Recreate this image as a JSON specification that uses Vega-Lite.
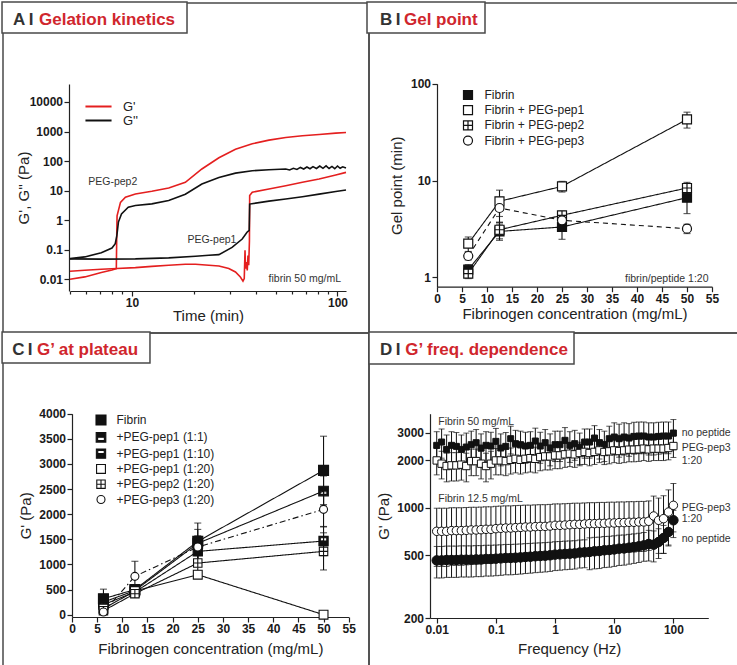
{
"$schema": "https://vega.github.io/schema/vega-lite/v6.json",
"background": "white",
"padding": {"left": 0, "top": 0, "right": -2, "bottom": -3},
"spacing": 0,
"bounds": "flush",
"columns": 2,
"resolve": {
  "scale": {"color": "independent", "shape": "independent", "fill": "independent", "size": "independent", "strokeDash": "independent"},
  "legend": {"color": "independent", "shape": "independent", "fill": "independent", "size": "independent", "strokeDash": "independent"}
},
"config": {
  "font": "Liberation Sans",
  "view": {"stroke": "#4a4a4a", "strokeWidth": 1.5},
  "scale": {"zero": false},
  "axis": {"grid": false, "labelFlush": false, "labelOverlap": false, "labelBound": false, "domainColor": "#222", "tickColor": "#222", "domainWidth": 1.2, "tickWidth": 1.2, "tickSize": 5, "labelPadding": 1.5, "labelFont": "Liberation Sans", "labelFontSize": 12, "labelFontWeight": "bold", "labelColor": "#1a1a1a", "titleFont": "Liberation Sans", "titleFontSize": 15, "titleFontWeight": "normal", "titleColor": "#222"},
  "legend": {"labelFont": "Liberation Sans", "labelColor": "#222", "padding": 0, "title": null}
},
"datasets": {
  "A": [
        {"s":"p2a","m":"G'","t":5,"g":0.0100},{"s":"p2a","m":"G'","t":5.9,"g":0.0120},{"s":"p2a","m":"G'","t":7.1,"g":0.0168},{"s":"p2a","m":"G'","t":8.0,"g":0.0207},{"s":"p2a","m":"G'","t":8.4,"g":0.0230},{"s":"p2a","m":"G'","t":8.44,"g":0.30},{"s":"p2a","m":"G'","t":8.47,"g":1.4},{"s":"p2a","m":"G'","t":8.8,"g":4.0},{"s":"p2a","m":"G'","t":9.3,"g":6.0},{"s":"p2a","m":"G'","t":10.4,"g":7.7},{"s":"p2a","m":"G'","t":12.5,"g":9.5},{"s":"p2a","m":"G'","t":15.1,"g":12.3},{"s":"p2a","m":"G'","t":18.2,"g":19},{"s":"p2a","m":"G'","t":21.9,"g":54},{"s":"p2a","m":"G'","t":26.5,"g":129},{"s":"p2a","m":"G'","t":31.9,"g":251},{"s":"p2a","m":"G'","t":38.5,"g":384},{"s":"p2a","m":"G'","t":46.4,"g":511},{"s":"p2a","m":"G'","t":56,"g":630},{"s":"p2a","m":"G'","t":67.5,"g":715},{"s":"p2a","m":"G'","t":81.4,"g":794},{"s":"p2a","m":"G'","t":98.1,"g":880},{"s":"p2a","m":"G'","t":110,"g":925},
        {"s":"p2b","m":"G''","t":5,"g":0.050},{"s":"p2b","m":"G''","t":5.9,"g":0.057},{"s":"p2b","m":"G''","t":7.1,"g":0.079},{"s":"p2b","m":"G''","t":8.0,"g":0.114},{"s":"p2b","m":"G''","t":8.3,"g":0.16},{"s":"p2b","m":"G''","t":8.45,"g":0.30},{"s":"p2b","m":"G''","t":8.6,"g":0.86},{"s":"p2b","m":"G''","t":8.9,"g":1.63},{"s":"p2b","m":"G''","t":9.6,"g":2.74},{"s":"p2b","m":"G''","t":10.4,"g":3.12},{"s":"p2b","m":"G''","t":12.5,"g":3.55},{"s":"p2b","m":"G''","t":15.1,"g":4.6},{"s":"p2b","m":"G''","t":18.2,"g":7.5},{"s":"p2b","m":"G''","t":21.9,"g":16.8},{"s":"p2b","m":"G''","t":26.5,"g":28},{"s":"p2b","m":"G''","t":31.9,"g":39},{"s":"p2b","m":"G''","t":38.5,"g":47},{"s":"p2b","m":"G''","t":46.4,"g":51},{"s":"p2b","m":"G''","t":56,"g":54},{"s":"p2b","m":"G''","t":58.5,"g":50},{"s":"p2b","m":"G''","t":61,"g":57},{"s":"p2b","m":"G''","t":63.5,"g":52},{"s":"p2b","m":"G''","t":66,"g":61},{"s":"p2b","m":"G''","t":68.5,"g":54},{"s":"p2b","m":"G''","t":71,"g":63},{"s":"p2b","m":"G''","t":73.5,"g":55},{"s":"p2b","m":"G''","t":76,"g":65},{"s":"p2b","m":"G''","t":79,"g":56},{"s":"p2b","m":"G''","t":82,"g":68},{"s":"p2b","m":"G''","t":85,"g":57},{"s":"p2b","m":"G''","t":88,"g":69},{"s":"p2b","m":"G''","t":91,"g":56},{"s":"p2b","m":"G''","t":94,"g":66},{"s":"p2b","m":"G''","t":97,"g":55},{"s":"p2b","m":"G''","t":100,"g":68},{"s":"p2b","m":"G''","t":103,"g":57},{"s":"p2b","m":"G''","t":106,"g":64},{"s":"p2b","m":"G''","t":110,"g":58},
        {"s":"p1a","m":"G'","t":5,"g":0.0186},{"s":"p1a","m":"G'","t":5.9,"g":0.0201},{"s":"p1a","m":"G'","t":7.1,"g":0.0217},{"s":"p1a","m":"G'","t":8.45,"g":0.0230},{"s":"p1a","m":"G'","t":10.4,"g":0.0247},{"s":"p1a","m":"G'","t":12.5,"g":0.0272},{"s":"p1a","m":"G'","t":15.1,"g":0.0296},{"s":"p1a","m":"G'","t":18.2,"g":0.032},{"s":"p1a","m":"G'","t":20.4,"g":0.032},{"s":"p1a","m":"G'","t":23.7,"g":0.0296},{"s":"p1a","m":"G'","t":26.5,"g":0.028},{"s":"p1a","m":"G'","t":29.6,"g":0.023},{"s":"p1a","m":"G'","t":31.9,"g":0.0177},{"s":"p1a","m":"G'","t":33.7,"g":0.0119},{"s":"p1a","m":"G'","t":34.7,"g":0.0086},{"s":"p1a","m":"G'","t":35.2,"g":0.0105},{"s":"p1a","m":"G'","t":35.5,"g":0.095},{"s":"p1a","m":"G'","t":35.7,"g":0.023},{"s":"p1a","m":"G'","t":36.1,"g":0.038},{"s":"p1a","m":"G'","t":36.4,"g":0.020},{"s":"p1a","m":"G'","t":36.7,"g":0.064},{"s":"p1a","m":"G'","t":37.0,"g":0.030},{"s":"p1a","m":"G'","t":37.3,"g":0.2},{"s":"p1a","m":"G'","t":37.4,"g":6.8},{"s":"p1a","m":"G'","t":38.5,"g":8.8},{"s":"p1a","m":"G'","t":46.4,"g":11.4},{"s":"p1a","m":"G'","t":56,"g":14.7},{"s":"p1a","m":"G'","t":67.5,"g":19.1},{"s":"p1a","m":"G'","t":81.4,"g":24.7},{"s":"p1a","m":"G'","t":98.1,"g":33.7},{"s":"p1a","m":"G'","t":110,"g":41.5},
        {"s":"p1b","m":"G''","t":5,"g":0.049},{"s":"p1b","m":"G''","t":7.1,"g":0.048},{"s":"p1b","m":"G''","t":10.4,"g":0.049},{"s":"p1b","m":"G''","t":15.1,"g":0.053},{"s":"p1b","m":"G''","t":20.4,"g":0.060},{"s":"p1b","m":"G''","t":23.7,"g":0.065},{"s":"p1b","m":"G''","t":26.5,"g":0.068},{"s":"p1b","m":"G''","t":30.7,"g":0.12},{"s":"p1b","m":"G''","t":34.4,"g":0.23},{"s":"p1b","m":"G''","t":36.3,"g":0.39},{"s":"p1b","m":"G''","t":37.2,"g":0.45},{"s":"p1b","m":"G''","t":37.4,"g":3.5},{"s":"p1b","m":"G''","t":46.4,"g":4.4},{"s":"p1b","m":"G''","t":56,"g":5.2},{"s":"p1b","m":"G''","t":67.5,"g":6.2},{"s":"p1b","m":"G''","t":81.4,"g":7.6},{"s":"p1b","m":"G''","t":98.1,"g":9.3},{"s":"p1b","m":"G''","t":110,"g":10.5}
  ],
  "B": [
        {"s":"Fibrin","c":6.25,"g":1.2,"e":0.15},{"s":"Fibrin","c":12.5,"g":2.98,"e":0.57},{"s":"Fibrin","c":25,"g":3.31,"e":0.84},{"s":"Fibrin","c":50,"g":6.65,"e":2.1},
        {"s":"Fibrin + PEG-pep1","c":6.25,"g":2.23,"e":0.38},{"s":"Fibrin + PEG-pep1","c":12.5,"g":6.1,"e":1.85},{"s":"Fibrin + PEG-pep1","c":25,"g":8.7,"e":1.1},{"s":"Fibrin + PEG-pep1","c":50,"g":42.8,"e":8},
        {"s":"Fibrin + PEG-pep2","c":6.25,"g":1.09,"e":0.12},{"s":"Fibrin + PEG-pep2","c":12.5,"g":3.1,"e":0.6},{"s":"Fibrin + PEG-pep2","c":25,"g":4.37,"e":0.45},{"s":"Fibrin + PEG-pep2","c":50,"g":8.37,"e":1.2},
        {"s":"Fibrin + PEG-pep3","c":6.25,"g":1.66,"e":0.15},{"s":"Fibrin + PEG-pep3","c":12.5,"g":5.2,"e":1.5},{"s":"Fibrin + PEG-pep3","c":25,"g":3.88,"e":0.4},{"s":"Fibrin + PEG-pep3","c":50,"g":3.18,"e":0.35}
  ],
  "C": [
        {"s":"Fibrin","c":6.25,"g":318,"e":190},{"s":"Fibrin","c":12.5,"g":500,"e":60},{"s":"Fibrin","c":25,"g":1459,"e":365},{"s":"Fibrin","c":50,"g":2872,"e":680},
        {"s":"+PEG-pep1 (1:1)","c":6.25,"g":250,"e":50},{"s":"+PEG-pep1 (1:1)","c":12.5,"g":480,"e":60},{"s":"+PEG-pep1 (1:1)","c":25,"g":1420,"e":150},{"s":"+PEG-pep1 (1:1)","c":50,"g":2461,"e":300},
        {"s":"+PEG-pep1 (1:10)","c":6.25,"g":200,"e":50},{"s":"+PEG-pep1 (1:10)","c":12.5,"g":450,"e":50},{"s":"+PEG-pep1 (1:10)","c":25,"g":1260,"e":200},{"s":"+PEG-pep1 (1:10)","c":50,"g":1466,"e":290},
        {"s":"+PEG-pep1 (1:20)","c":6.25,"g":120,"e":40},{"s":"+PEG-pep1 (1:20)","c":12.5,"g":470,"e":50},{"s":"+PEG-pep1 (1:20)","c":25,"g":796,"e":60},{"s":"+PEG-pep1 (1:20)","c":50,"g":0,"e":20},
        {"s":"+PEG-pep2 (1:20)","c":6.25,"g":80,"e":40},{"s":"+PEG-pep2 (1:20)","c":12.5,"g":418,"e":50},{"s":"+PEG-pep2 (1:20)","c":25,"g":1028,"e":150},{"s":"+PEG-pep2 (1:20)","c":50,"g":1260,"e":370},
        {"s":"+PEG-pep3 (1:20)","c":6.25,"g":53,"e":30},{"s":"+PEG-pep3 (1:20)","c":12.5,"g":763,"e":300},{"s":"+PEG-pep3 (1:20)","c":25,"g":1347,"e":350},{"s":"+PEG-pep3 (1:20)","c":50,"g":2096,"e":350}
  ],
  "D": [
{"s":"n50","f":0.01,"g":2494,"e":550},{"s":"n50","f":0.0121,"g":2617,"e":550},{"s":"n50","f":0.0147,"g":2351,"e":550},{"s":"n50","f":0.0178,"g":2494,"e":550},{"s":"n50","f":0.0215,"g":2457,"e":550},{"s":"n50","f":0.0261,"g":2351,"e":550},{"s":"n50","f":0.0316,"g":2433,"e":550},{"s":"n50","f":0.0383,"g":2518,"e":550},{"s":"n50","f":0.0464,"g":2592,"e":550},{"s":"n50","f":0.0562,"g":2398,"e":550},{"s":"n50","f":0.0681,"g":2494,"e":550},{"s":"n50","f":0.0825,"g":2469,"e":550},{"s":"n50","f":0.1,"g":2643,"e":550},{"s":"n50","f":0.121,"g":2398,"e":550},{"s":"n50","f":0.147,"g":2457,"e":550},{"s":"n50","f":0.178,"g":2748,"e":550},{"s":"n50","f":0.215,"g":2555,"e":550},{"s":"n50","f":0.261,"g":2518,"e":550},{"s":"n50","f":0.316,"g":2469,"e":550},{"s":"n50","f":0.383,"g":2494,"e":550},{"s":"n50","f":0.464,"g":2656,"e":550},{"s":"n50","f":0.562,"g":2469,"e":550},{"s":"n50","f":0.681,"g":2592,"e":550},{"s":"n50","f":0.825,"g":2398,"e":550},{"s":"n50","f":1,"g":2518,"e":550},{"s":"n50","f":1.21,"g":2518,"e":550},{"s":"n50","f":1.47,"g":2683,"e":550},{"s":"n50","f":1.78,"g":2494,"e":550},{"s":"n50","f":2.15,"g":2555,"e":550},{"s":"n50","f":2.61,"g":2433,"e":550},{"s":"n50","f":3.16,"g":2617,"e":550},{"s":"n50","f":3.83,"g":2617,"e":550},{"s":"n50","f":4.64,"g":2775,"e":550},{"s":"n50","f":5.62,"g":2592,"e":550},{"s":"n50","f":6.81,"g":2518,"e":550},{"s":"n50","f":8.25,"g":2748,"e":550},{"s":"n50","f":10,"g":2816,"e":650},{"s":"n50","f":12.1,"g":2748,"e":650},{"s":"n50","f":14.7,"g":2816,"e":650},{"s":"n50","f":17.8,"g":2775,"e":650},{"s":"n50","f":21.5,"g":2843,"e":650},{"s":"n50","f":26.1,"g":2857,"e":650},{"s":"n50","f":31.6,"g":2857,"e":650},{"s":"n50","f":38.3,"g":2816,"e":650},{"s":"n50","f":46.4,"g":2816,"e":650},{"s":"n50","f":56.2,"g":2843,"e":650},{"s":"n50","f":68.1,"g":2857,"e":650},{"s":"n50","f":82.5,"g":2857,"e":650},{"s":"n50","f":100,"g":2986,"e":650},
{"s":"p50","f":0.01,"g":2000,"e":380},{"s":"p50","f":0.0121,"g":1907,"e":380},{"s":"p50","f":0.0147,"g":1843,"e":380},{"s":"p50","f":0.0178,"g":1861,"e":380},{"s":"p50","f":0.0215,"g":1861,"e":380},{"s":"p50","f":0.0261,"g":1880,"e":380},{"s":"p50","f":0.0316,"g":1843,"e":380},{"s":"p50","f":0.0383,"g":1981,"e":380},{"s":"p50","f":0.0464,"g":1981,"e":380},{"s":"p50","f":0.0562,"g":1907,"e":380},{"s":"p50","f":0.0681,"g":1843,"e":380},{"s":"p50","f":0.0825,"g":1907,"e":380},{"s":"p50","f":0.1,"g":2000,"e":380},{"s":"p50","f":0.121,"g":2000,"e":380},{"s":"p50","f":0.147,"g":1981,"e":380},{"s":"p50","f":0.178,"g":2019,"e":380},{"s":"p50","f":0.215,"g":2048,"e":380},{"s":"p50","f":0.261,"g":2019,"e":380},{"s":"p50","f":0.316,"g":2048,"e":380},{"s":"p50","f":0.383,"g":2068,"e":380},{"s":"p50","f":0.464,"g":2048,"e":380},{"s":"p50","f":0.562,"g":2100,"e":380},{"s":"p50","f":0.681,"g":2121,"e":380},{"s":"p50","f":0.825,"g":2121,"e":380},{"s":"p50","f":1,"g":2153,"e":380},{"s":"p50","f":1.21,"g":2153,"e":380},{"s":"p50","f":1.47,"g":2187,"e":380},{"s":"p50","f":1.78,"g":2208,"e":380},{"s":"p50","f":2.15,"g":2187,"e":380},{"s":"p50","f":2.61,"g":2230,"e":380},{"s":"p50","f":3.16,"g":2266,"e":380},{"s":"p50","f":3.83,"g":2230,"e":380},{"s":"p50","f":4.64,"g":2266,"e":380},{"s":"p50","f":5.62,"g":2317,"e":380},{"s":"p50","f":6.81,"g":2263,"e":380},{"s":"p50","f":8.25,"g":2284,"e":380},{"s":"p50","f":10,"g":2317,"e":380},{"s":"p50","f":12.1,"g":2295,"e":380},{"s":"p50","f":14.7,"g":2317,"e":380},{"s":"p50","f":17.8,"g":2341,"e":380},{"s":"p50","f":21.5,"g":2341,"e":380},{"s":"p50","f":26.1,"g":2352,"e":380},{"s":"p50","f":31.6,"g":2377,"e":380},{"s":"p50","f":38.3,"g":2352,"e":380},{"s":"p50","f":46.4,"g":2377,"e":380},{"s":"p50","f":56.2,"g":2377,"e":380},{"s":"p50","f":68.1,"g":2377,"e":380},{"s":"p50","f":82.5,"g":2398,"e":380},{"s":"p50","f":100,"g":2469,"e":380},
{"s":"p12","f":0.01,"g":710,"e":285},{"s":"p12","f":0.0121,"g":710,"e":285},{"s":"p12","f":0.0147,"g":710,"e":285},{"s":"p12","f":0.0178,"g":717,"e":285},{"s":"p12","f":0.0215,"g":717,"e":285},{"s":"p12","f":0.0261,"g":717,"e":285},{"s":"p12","f":0.0316,"g":720,"e":285},{"s":"p12","f":0.0383,"g":724,"e":285},{"s":"p12","f":0.0464,"g":724,"e":285},{"s":"p12","f":0.0562,"g":727,"e":285},{"s":"p12","f":0.0681,"g":731,"e":285},{"s":"p12","f":0.0825,"g":731,"e":285},{"s":"p12","f":0.1,"g":738,"e":285},{"s":"p12","f":0.121,"g":742,"e":285},{"s":"p12","f":0.147,"g":745,"e":285},{"s":"p12","f":0.178,"g":745,"e":285},{"s":"p12","f":0.215,"g":749,"e":285},{"s":"p12","f":0.261,"g":752,"e":285},{"s":"p12","f":0.316,"g":756,"e":285},{"s":"p12","f":0.383,"g":756,"e":285},{"s":"p12","f":0.464,"g":760,"e":285},{"s":"p12","f":0.562,"g":763,"e":285},{"s":"p12","f":0.681,"g":763,"e":285},{"s":"p12","f":0.825,"g":767,"e":285},{"s":"p12","f":1,"g":775,"e":285},{"s":"p12","f":1.21,"g":775,"e":285},{"s":"p12","f":1.47,"g":778,"e":285},{"s":"p12","f":1.78,"g":782,"e":285},{"s":"p12","f":2.15,"g":786,"e":285},{"s":"p12","f":2.61,"g":786,"e":285},{"s":"p12","f":3.16,"g":790,"e":285},{"s":"p12","f":3.83,"g":794,"e":285},{"s":"p12","f":4.64,"g":794,"e":285},{"s":"p12","f":5.62,"g":798,"e":285},{"s":"p12","f":6.81,"g":798,"e":285},{"s":"p12","f":8.25,"g":802,"e":285},{"s":"p12","f":10,"g":802,"e":285},{"s":"p12","f":12.1,"g":806,"e":285},{"s":"p12","f":14.7,"g":806,"e":285},{"s":"p12","f":17.8,"g":810,"e":285},{"s":"p12","f":21.5,"g":810,"e":285},{"s":"p12","f":26.1,"g":814,"e":285},{"s":"p12","f":31.6,"g":814,"e":285},{"s":"p12","f":38.3,"g":822,"e":285},{"s":"p12","f":46.4,"g":888,"e":300},{"s":"p12","f":56.2,"g":834,"e":320},{"s":"p12","f":68.1,"g":854,"e":340},{"s":"p12","f":82.5,"g":941,"e":360},{"s":"p12","f":100,"g":1038,"e":390},
{"s":"n12","f":0.01,"g":464,"e":105},{"s":"n12","f":0.0121,"g":464,"e":105},{"s":"n12","f":0.0147,"g":467,"e":105},{"s":"n12","f":0.0178,"g":467,"e":105},{"s":"n12","f":0.0215,"g":467,"e":105},{"s":"n12","f":0.0261,"g":469,"e":105},{"s":"n12","f":0.0316,"g":469,"e":105},{"s":"n12","f":0.0383,"g":469,"e":105},{"s":"n12","f":0.0464,"g":471,"e":105},{"s":"n12","f":0.0562,"g":471,"e":105},{"s":"n12","f":0.0681,"g":474,"e":105},{"s":"n12","f":0.0825,"g":474,"e":105},{"s":"n12","f":0.1,"g":476,"e":105},{"s":"n12","f":0.121,"g":478,"e":105},{"s":"n12","f":0.147,"g":481,"e":105},{"s":"n12","f":0.178,"g":481,"e":105},{"s":"n12","f":0.215,"g":483,"e":105},{"s":"n12","f":0.261,"g":485,"e":105},{"s":"n12","f":0.316,"g":488,"e":105},{"s":"n12","f":0.383,"g":490,"e":105},{"s":"n12","f":0.464,"g":493,"e":105},{"s":"n12","f":0.562,"g":495,"e":105},{"s":"n12","f":0.681,"g":497,"e":105},{"s":"n12","f":0.825,"g":500,"e":105},{"s":"n12","f":1,"g":505,"e":105},{"s":"n12","f":1.21,"g":507,"e":105},{"s":"n12","f":1.47,"g":510,"e":105},{"s":"n12","f":1.78,"g":512,"e":105},{"s":"n12","f":2.15,"g":514,"e":105},{"s":"n12","f":2.61,"g":520,"e":105},{"s":"n12","f":3.16,"g":522,"e":105},{"s":"n12","f":3.83,"g":525,"e":120},{"s":"n12","f":4.64,"g":530,"e":120},{"s":"n12","f":5.62,"g":532,"e":120},{"s":"n12","f":6.81,"g":538,"e":120},{"s":"n12","f":8.25,"g":540,"e":120},{"s":"n12","f":10,"g":545,"e":120},{"s":"n12","f":12.1,"g":551,"e":120},{"s":"n12","f":14.7,"g":553,"e":120},{"s":"n12","f":17.8,"g":559,"e":120},{"s":"n12","f":21.5,"g":564,"e":120},{"s":"n12","f":26.1,"g":570,"e":120},{"s":"n12","f":31.6,"g":578,"e":120},{"s":"n12","f":38.3,"g":590,"e":130},{"s":"n12","f":46.4,"g":584,"e":130},{"s":"n12","f":56.2,"g":607,"e":130},{"s":"n12","f":68.1,"g":644,"e":130},{"s":"n12","f":82.5,"g":703,"e":130},{"s":"n12","f":100,"g":834,"e":130}
  ]
},
"concat": [
{
  "width": 366, "height": 330,
  "layer": [
    {
      "data": {"name": "A"},
      "mark": {"type": "line", "strokeWidth": 1.6},
      "encoding": {
        "x": {"field": "t", "type": "quantitative", "scale": {"type": "log", "domain": [5, 110], "range": [67, 343], "nice": false},
              "axis": {"title": "Time (min)", "offset": -42, "values": [5,6,7,8,9,10,20,30,40,50,60,70,80,90,100], "labelExpr": "datum.value == 10 ? '10' : datum.value == 100 ? '100' : ''", "tickSize": {"condition": {"test": "datum.value == 10 || datum.value == 100", "value": 5}, "value": 3}, "titlePadding": 0}},
        "y": {"field": "g", "type": "quantitative", "scale": {"type": "log", "domain": [0.004, 40600], "range": [288, 81], "nice": false},
              "axis": {"title": "G', G'' (Pa)", "offset": -66, "values": [0.01,0.1,1,10,100,1000,10000], "format": "~g", "titlePadding": -2}},
        "color": {"field": "m", "type": "nominal", "scale": {"domain": ["G'", "G''"], "range": ["#e41f1f", "#111111"]},
                  "legend": {"orient": "none", "legendX": 89, "legendY": 97, "symbolType": "M-2.9,0H2.9", "symbolSize": 81, "symbolStrokeWidth": 2, "labelFontSize": 13, "labelOffset": 18, "rowPadding": 0}},
        "detail": {"field": "s"}
      }
    },
    {
      "data": {"values": [{"t": 8.07, "g": 19, "txt": "PEG-pep2"}, {"t": 24.5, "g": 0.22, "txt": "PEG-pep1"}]},
      "mark": {"type": "text", "fontSize": 10.5, "color": "#333", "align": "center", "baseline": "middle"},
      "encoding": {"x": {"field": "t", "type": "quantitative"}, "y": {"field": "g", "type": "quantitative"}, "text": {"field": "txt"}}
    },
    {
      "data": {"values": [{"t": 104, "g": 0.0102, "txt": "fibrin 50 mg/mL"}]},
      "mark": {"type": "text", "fontSize": 10.5, "color": "#333", "align": "right", "baseline": "middle"},
      "encoding": {"x": {"field": "t", "type": "quantitative"}, "y": {"field": "g", "type": "quantitative"}, "text": {"field": "txt"}}
    },
    {
      "data": {"values": [{}]},
      "mark": {"type": "rect", "fill": "white", "stroke": "#4a4a4a", "strokeWidth": 1.5},
      "encoding": {"x": {"datum": 2.335, "type": "quantitative"}, "x2": {"datum": 18.54}, "y": {"datum": 24200000, "type": "quantitative"}, "y2": {"datum": 2160000}}
    },
    {
      "data": {"values": [{}]},
      "mark": {"type": "text", "text": "A\u2009I", "fontSize": 17, "fontWeight": "bold", "color": "#333", "align": "left", "baseline": "alphabetic"},
      "encoding": {"x": {"datum": 2.641, "type": "quantitative"}, "y": {"datum": 4040000, "type": "quantitative"}}
    },
    {
      "data": {"values": [{}]},
      "mark": {"type": "text", "text": "Gelation kinetics", "fontSize": 17, "fontWeight": "bold", "color": "#d0262d", "align": "left", "baseline": "alphabetic"},
      "encoding": {"x": {"datum": 3.534, "type": "quantitative"}, "y": {"datum": 4040000, "type": "quantitative"}}
    }
  ]
},
{
  "width": 371, "height": 330,
  "layer": [
    {
      "data": {"name": "B"},
      "mark": {"type": "errorbar", "ticks": {"size": 7, "color": "#111", "thickness": 1.1}, "rule": {"color": "#111", "strokeWidth": 1.1}},
      "encoding": {
        "x": {"field": "c", "type": "quantitative", "title": "Fibrinogen concentration (mg/mL)", "scale": {"domain": [0, 55], "range": [68, 343], "nice": false},
              "axis": {"title": "Fibrinogen concentration (mg/mL)", "offset": -46.3, "values": [0,5,10,15,20,25,30,35,40,45,50,55], "tickCount": 12, "labelOverlap": false, "titlePadding": 2}},
        "y": {"field": "g", "type": "quantitative", "title": "Gel point (min)", "scale": {"type": "log", "domain": [0.8, 100], "range": [283.7, 80.7], "nice": false},
              "axis": {"title": "Gel point (min)", "offset": -68, "values": [1, 10, 100], "format": "~g", "titlePadding": 6}},
        "yError": {"field": "e"}
      }
    },
    {
      "data": {"name": "B"},
      "mark": {"type": "line", "color": "#111", "strokeWidth": 1.1},
      "encoding": {
        "x": {"field": "c", "type": "quantitative"},
        "y": {"field": "g", "type": "quantitative"},
        "detail": {"field": "s"},
        "strokeDash": {"field": "s", "type": "nominal", "scale": {"domain": ["Fibrin + PEG-pep3", "Fibrin", "Fibrin + PEG-pep1", "Fibrin + PEG-pep2"], "range": [[5,4],[1,0],[1,0],[1,0]]}, "legend": null}
      }
    },
    {
      "data": {"name": "B"},
      "mark": {"type": "point", "filled": true, "stroke": "#111", "strokeWidth": 1.2, "opacity": 1},
      "encoding": {
        "x": {"field": "c", "type": "quantitative"},
        "y": {"field": "g", "type": "quantitative"},
        "size": {"field": "s", "type": "ordinal", "scale": {"domain": ["Fibrin", "Fibrin + PEG-pep1", "Fibrin + PEG-pep2", "Fibrin + PEG-pep3"], "range": [81, 81, 81, 81]}},
        "shape": {"field": "s", "type": "nominal", "scale": {"domain": ["Fibrin", "Fibrin + PEG-pep1", "Fibrin + PEG-pep2", "Fibrin + PEG-pep3"], "range": ["M-1,-1H1V1H-1Z", "M-1,-1H1V1H-1Z", "M-1,-1H1V1H-1ZM0,-1V1M-1,0H1", "M1,0A1,1,0,1,1,-1,0A1,1,0,1,1,1,0Z"]},
                  "legend": {"orient": "none", "legendX": 93, "legendY": 86, "symbolStrokeColor": "#111", "symbolStrokeWidth": 1.2, "symbolOpacity": 1, "labelFontSize": 12, "labelOffset": 10.5, "rowPadding": 1.2}},
        "fill": {"field": "s", "type": "nominal", "scale": {"domain": ["Fibrin", "Fibrin + PEG-pep1", "Fibrin + PEG-pep2", "Fibrin + PEG-pep3"], "range": ["#111", "white", "white", "white"]}}
      }
    },
    {
      "data": {"values": [{"c": 54.3, "g": 0.97, "txt": "fibrin/peptide 1:20"}]},
      "mark": {"type": "text", "fontSize": 10.5, "color": "#333", "align": "right", "baseline": "middle"},
      "encoding": {"x": {"field": "c", "type": "quantitative"}, "y": {"field": "g", "type": "quantitative"}, "text": {"field": "txt"}}
    },
    {
      "data": {"values": [{}]},
      "mark": {"type": "rect", "fill": "white", "stroke": "#4a4a4a", "strokeWidth": 1.5},
      "encoding": {"x": {"datum": -14, "type": "quantitative"}, "x2": {"datum": 9.6}, "y": {"datum": 698, "type": "quantitative"}, "y2": {"datum": 334}}
    },
    {
      "data": {"values": [{}]},
      "mark": {"type": "text", "text": "B\u2009I", "fontSize": 17, "fontWeight": "bold", "color": "#333", "align": "left", "baseline": "alphabetic"},
      "encoding": {"x": {"datum": -11.4, "type": "quantitative"}, "y": {"datum": 403.6, "type": "quantitative"}}
    },
    {
      "data": {"values": [{}]},
      "mark": {"type": "text", "text": "Gel point", "fontSize": 17, "fontWeight": "bold", "color": "#d0262d", "align": "left", "baseline": "alphabetic"},
      "encoding": {"x": {"datum": -6.6, "type": "quantitative"}, "y": {"datum": 403.6, "type": "quantitative"}}
    }
  ]
},
{
  "width": 366, "height": 336,
  "layer": [
    {
      "data": {"name": "C"},
      "mark": {"type": "errorbar", "ticks": {"size": 7, "color": "#111", "thickness": 1.1}, "rule": {"color": "#111", "strokeWidth": 1.1}},
      "encoding": {
        "x": {"field": "c", "type": "quantitative", "title": "Fibrinogen concentration (mg/mL)", "scale": {"domain": [0, 55], "range": [69, 345.7], "nice": false},
              "axis": {"title": "Fibrinogen concentration (mg/mL)", "offset": -52, "values": [0,5,10,15,20,25,30,35,40,45,50,55], "tickCount": 12, "labelOverlap": false, "titlePadding": 7}},
        "y": {"field": "g", "type": "quantitative", "title": "G' (Pa)", "scale": {"domain": [-46, 4000], "range": [284, 80.7], "nice": false},
              "axis": {"title": "G' (Pa)", "offset": -69, "values": [0,500,1000,1500,2000,2500,3000,3500,4000], "format": "d", "titlePadding": 5}},
        "yError": {"field": "e"}
      }
    },
    {
      "data": {"name": "C"},
      "mark": {"type": "line", "color": "#111", "strokeWidth": 1.1},
      "encoding": {
        "x": {"field": "c", "type": "quantitative"},
        "y": {"field": "g", "type": "quantitative"},
        "detail": {"field": "s"},
        "strokeDash": {"field": "s", "type": "nominal", "scale": {"domain": ["+PEG-pep3 (1:20)", "Fibrin", "+PEG-pep1 (1:1)", "+PEG-pep1 (1:10)", "+PEG-pep1 (1:20)", "+PEG-pep2 (1:20)"], "range": [[6,3,1.5,3],[1,0],[1,0],[1,0],[1,0],[1,0]]}, "legend": null}
      }
    },
    {
      "data": {"name": "C"},
      "mark": {"type": "point", "filled": true, "stroke": "#111", "strokeWidth": 1.1, "opacity": 1},
      "encoding": {
        "x": {"field": "c", "type": "quantitative"},
        "y": {"field": "g", "type": "quantitative"},
        "size": {"field": "s", "type": "ordinal", "scale": {"domain": ["Fibrin", "+PEG-pep1 (1:1)", "+PEG-pep1 (1:10)", "+PEG-pep1 (1:20)", "+PEG-pep2 (1:20)", "+PEG-pep3 (1:20)"], "range": [100, 64, 64, 64, 64, 64]}},
        "shape": {"field": "s", "type": "nominal", "scale": {"domain": ["Fibrin", "+PEG-pep1 (1:1)", "+PEG-pep1 (1:10)", "+PEG-pep1 (1:20)", "+PEG-pep2 (1:20)", "+PEG-pep3 (1:20)"],
                   "range": ["M-1,-1H1V1H-1Z", "M-1,-1H1V1H-1ZM-0.7,-0.7V0.7H0.7V-0.7ZM-0.7,-0.7H0.7V0H-0.7Z", "M-1,-1H1V1H-1ZM-0.7,-0.7V0.7H0.7V-0.7ZM-0.7,0H0.7V0.7H-0.7Z", "M-1,-1H1V1H-1Z", "M-1,-1H1V1H-1ZM0,-1V1M-1,0H1", "M1,0A1,1,0,1,1,-1,0A1,1,0,1,1,1,0Z"]},
                  "legend": {"orient": "none", "legendX": 92, "legendY": 81, "symbolStrokeColor": "#111", "symbolStrokeWidth": 1.1, "symbolOpacity": 1, "labelFontSize": 12, "labelOffset": 9.5, "rowPadding": 1.3}},
        "fill": {"field": "s", "type": "nominal", "scale": {"domain": ["Fibrin", "+PEG-pep1 (1:1)", "+PEG-pep1 (1:10)", "+PEG-pep1 (1:20)", "+PEG-pep2 (1:20)", "+PEG-pep3 (1:20)"], "range": ["#111", "#111", "#111", "white", "white", "white"]}}
      }
    },
    {
      "data": {"values": [{}]},
      "mark": {"type": "rect", "fill": "white", "stroke": "#4a4a4a", "strokeWidth": 1.5},
      "encoding": {"x": {"datum": -13.9, "type": "quantitative"}, "x2": {"datum": 15.5}, "y": {"datum": 5626, "type": "quantitative"}, "y2": {"datum": 5009}}
    },
    {
      "data": {"values": [{}]},
      "mark": {"type": "text", "text": "C\u2009I", "fontSize": 17, "fontWeight": "bold", "color": "#333", "align": "left", "baseline": "alphabetic"},
      "encoding": {"x": {"datum": -11.9, "type": "quantitative"}, "y": {"datum": 5168, "type": "quantitative"}}
    },
    {
      "data": {"values": [{}]},
      "mark": {"type": "text", "text": "G’ at plateau", "fontSize": 17, "fontWeight": "bold", "color": "#d0262d", "align": "left", "baseline": "alphabetic"},
      "encoding": {"x": {"datum": -6.96, "type": "quantitative"}, "y": {"datum": 5168, "type": "quantitative"}}
    }
  ]
},
{
  "width": 371, "height": 336,
  "layer": [
    {
      "data": {"name": "D"},
      "mark": {"type": "errorbar", "ticks": {"size": 6, "color": "#111", "thickness": 1}, "rule": {"color": "#111", "strokeWidth": 1}},
      "encoding": {
        "x": {"field": "f", "type": "quantitative", "title": "Frequency (Hz)", "scale": {"type": "log", "domain": [0.0077, 389], "range": [61, 339.3], "nice": false},
              "axis": {"title": "Frequency (Hz)", "offset": -51, "values": [0.01, 0.1, 1, 10, 100], "format": "~g", "titlePadding": 5.5}},
        "y": {"field": "g", "type": "quantitative", "title": "G' (Pa)", "scale": {"type": "log", "domain": [200, 3960], "range": [285, 80.7], "nice": false},
              "axis": {"title": "G' (Pa)", "offset": -61, "values": [200, 500, 1000, 2000, 3000], "format": "d", "titlePadding": 5}},
        "yError": {"field": "e"},
        "detail": {"field": "s"}
      }
    },
    {
      "data": {"name": "D"},
      "mark": {"type": "point", "filled": true, "stroke": "#111", "strokeWidth": 1, "opacity": 1},
      "encoding": {
        "x": {"field": "f", "type": "quantitative"},
        "y": {"field": "g", "type": "quantitative"},
        "size": {"field": "s", "type": "ordinal", "scale": {"domain": ["n50", "p50", "p12", "n12"], "range": [36, 90, 36, 110]}, "legend": null},
        "fill": {"field": "s", "type": "nominal", "scale": {"domain": ["n50", "p50", "p12", "n12"], "range": ["#111", "white", "white", "#111"]}, "legend": null},
        "shape": {"field": "s", "type": "nominal", "scale": {"domain": ["n50", "p50", "p12", "n12"], "range": ["M-1,-1H1V1H-1Z", "M-1,-1H1V1H-1Z", "M1,0A1,1,0,1,1,-1,0A1,1,0,1,1,1,0Z", "M1,0A1,1,0,1,1,-1,0A1,1,0,1,1,1,0Z"]}, "legend": null}
      }
    },
    {
      "data": {"values": [
        {"f": 0.0106, "g": 3508, "txt": "Fibrin 50 mg/mL"},
        {"f": 0.0106, "g": 1143, "txt": "Fibrin 12.5 mg/mL"},
        {"f": 138, "g": 3000, "txt": "no peptide"},
        {"f": 138, "g": 2398, "txt": "PEG-pep3"},
        {"f": 138, "g": 1973, "txt": "1:20"},
        {"f": 138, "g": 1000, "txt": "PEG-pep3"},
        {"f": 138, "g": 856, "txt": "1:20"},
        {"f": 138, "g": 632, "txt": "no peptide"}
      ]},
      "mark": {"type": "text", "fontSize": 10.5, "color": "#333", "align": "left", "baseline": "middle"},
      "encoding": {"x": {"field": "f", "type": "quantitative"}, "y": {"field": "g", "type": "quantitative"}, "text": {"field": "txt"}}
    },
    {
      "data": {"values": [{}]},
      "mark": {"type": "rect", "fill": "white", "stroke": "#4a4a4a", "strokeWidth": 1.5},
      "encoding": {"x": {"datum": 0.000718, "type": "quantitative"}, "x2": {"datum": 2.091}, "y": {"datum": 13060, "type": "quantitative"}, "y2": {"datum": 8185}}
    },
    {
      "data": {"values": [{}]},
      "mark": {"type": "text", "text": "D\u2009I", "fontSize": 17, "fontWeight": "bold", "color": "#333", "align": "left", "baseline": "alphabetic"},
      "encoding": {"x": {"datum": 0.0011, "type": "quantitative"}, "y": {"datum": 9336, "type": "quantitative"}}
    },
    {
      "data": {"values": [{}]},
      "mark": {"type": "text", "text": "G’ freq. dependence", "fontSize": 17, "fontWeight": "bold", "color": "#d0262d", "align": "left", "baseline": "alphabetic"},
      "encoding": {"x": {"datum": 0.00295, "type": "quantitative"}, "y": {"datum": 9336, "type": "quantitative"}}
    }
  ]
}
]
}
